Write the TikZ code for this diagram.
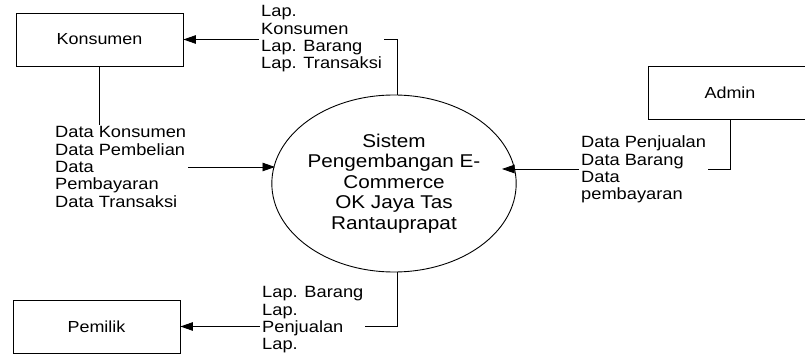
\documentclass[tikz,border=0pt]{standalone}
\usepackage{fontspec}
\setmainfont[FakeStretch=1.12]{Liberation Sans}
\usetikzlibrary{arrows.meta, calc, shapes.geometric}
\tikzset{%
    lin/.style={line width = 0.8pt},
    lina/.style={line width = 0.8pt, -{Triangle[length=12.5pt, width=8.5pt]}},
    ent/.style={rectangle, draw, line width=0.8pt, minimum height=53pt, font=\fontsize{16}{17}\selectfont},
    lbl/.style={rectangle, fill=white, inner sep=2pt, align=left, anchor=west, font=\fontsize{16.3}{17.3}\selectfont},
    proc/.style={ellipse, draw, line width=0.9pt, inner sep=0pt, minimum width=219pt, minimum height=177pt, align=center, font=\fontsize{18.5}{20.5}\selectfont},
}
\begin{document}
\begin{tikzpicture}[x=1pt, y=-1pt]
    \useasboundingbox (0,0) rectangle (805,355);
    \node [ent, minimum width=167pt] (konsumen) at (99.5,39.5) {Konsumen};
    \node [ent, minimum width=164pt] (admin) at (730,92.5) {Admin};
    \node [ent, minimum width=167pt] (pemilik) at (96.5,326.5) {Pemilik};
    \node [proc] (sistem) at (394,183.5) {Sistem\\Pengembangan E-\\Commerce\\OK Jaya Tas\\Rantauprapat};
    \coordinate (inkons) at (275,167);
    \coordinate (inadmin) at (502,169);
    % arus data
    \draw [lina] ($(sistem.north)+(3,0)$) |- (konsumen.east);
    \draw [lina] (konsumen.south) |- (inkons);
    \draw [lina] (admin.south) |- (inadmin);
    \draw [lina] ($(sistem.south)+(3,0)$) |- (pemilik.east);
    % keterangan
    \node [lbl] (lapkons) at (259,39) {Lap.\\Konsumen\\Lap. Barang\\Lap. Transaksi};
    \node [lbl] (datakons) at (53,167) {Data Konsumen\\Data Pembelian\\Data\\Pembayaran\\Data Transaksi};
    \node [lbl] (dataadmin) at (579,169.5) {Data Penjualan\\Data Barang\\Data\\pembayaran};
    \node [lbl] (lappem) at (260,320) {Lap. Barang\\Lap.\\Penjualan\\Lap.};
\end{tikzpicture}
\end{document}
